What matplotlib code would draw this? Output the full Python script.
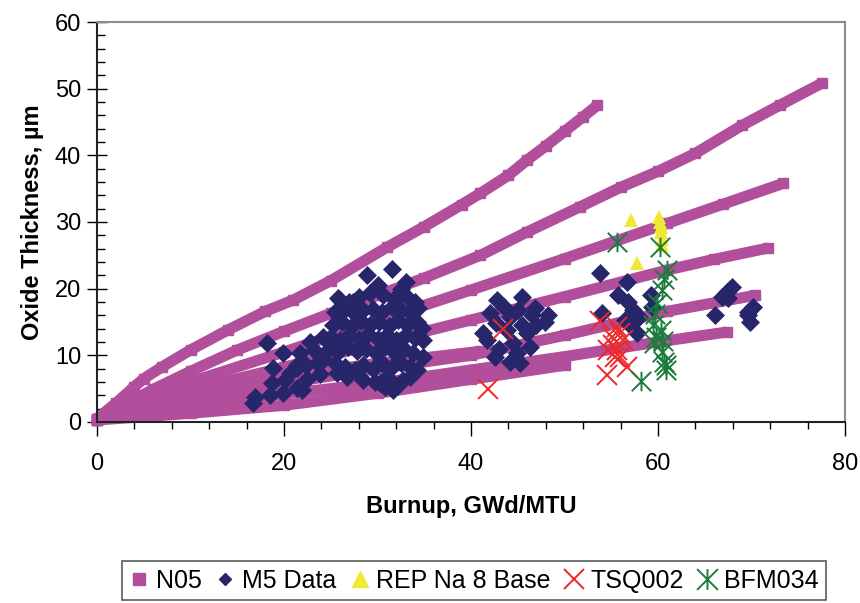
import numpy as np
import matplotlib
matplotlib.use('Agg')
import matplotlib.pyplot as plt
from matplotlib.path import Path
from matplotlib.lines import Line2D

plt.rcParams['font.family'] = ['Liberation Sans', 'DejaVu Sans']

# N05 model curves (burnup, oxide thickness)
n05_curves = [
    ([0, 2, 4, 5, 7, 10, 14, 18, 21, 25, 31, 35, 39, 41, 44, 46, 48, 50, 52, 53.5],
     [0.5, 2.8, 5.3, 6.5, 8.3, 10.8, 13.8, 16.6, 18.3, 21.2, 26.2, 29.3, 32.6, 34.3, 37.0, 39.3, 41.4, 43.6, 45.8, 47.5]),
    ([0, 3, 6, 10, 15, 20, 25, 30, 35, 41, 46, 51.7, 56, 60, 64, 69, 73, 77.5],
     [0.5, 2.6, 4.9, 7.6, 10.8, 13.6, 16.3, 19.0, 21.6, 25.0, 28.5, 32.3, 35.2, 37.6, 40.3, 44.5, 47.5, 50.8]),
    ([0, 5, 10, 20, 30, 40, 50, 61, 67, 73.4],
     [0.4, 3.5, 6.0, 10.5, 15.2, 19.8, 24.5, 29.8, 32.7, 35.8]),
    ([0, 5, 10, 20, 30, 40, 50, 61, 66, 71.8],
     [0.4, 2.8, 4.8, 8.2, 11.8, 15.3, 18.8, 22.8, 24.4, 26.1]),
    ([0, 5, 10, 20, 30, 41],
     [0.3, 2.6, 4.3, 6.8, 8.8, 10.6]),
    ([0, 5, 10, 20, 30, 40, 50, 61, 70.4],
     [0.3, 2.0, 3.5, 5.8, 8.0, 10.0, 13.0, 16.6, 19.0]),
    ([0, 10, 20, 30, 40, 50, 60, 67.4],
     [0.3, 2.5, 4.2, 5.8, 7.8, 9.8, 12.0, 13.5]),
    ([0, 10, 20, 30, 40, 50],
     [0.3, 1.3, 2.5, 4.3, 6.4, 8.5]),
]

# M5 data
m5_x = [16.7, 16.9, 18.2, 18.8, 19.9, 21.7, 21.4, 18.7, 20.1, 19.9, 18.5, 21.4, 21.9, 20.6, 22.8,
        23.5, 24.2, 24.9, 24.2, 21.4, 22.5, 23.2, 23.8, 22.3,
        25.8, 27.0, 28.0, 29.2, 30.6, 31.8, 33.1, 34.0,
        28.9, 31.6, 33.0, 27.4, 26.0, 32.5, 30.0,
        25.5, 26.5, 27.5, 28.5, 29.5, 30.5, 31.5, 32.5, 33.5, 34.3,
        25.2, 26.2, 27.2, 28.2, 29.2, 30.2, 31.2, 32.2, 33.2, 34.2, 34.8,
        25.0, 26.0, 27.0, 28.0, 29.0, 30.0, 31.0, 32.0, 33.0, 34.0, 34.9,
        24.8, 25.8, 26.8, 27.8, 28.8, 29.8, 30.8, 31.8, 32.8, 33.8, 34.9,
        25.5, 26.5, 27.6, 28.5, 29.5, 30.5, 31.5, 32.5, 33.5, 34.2,
        25.7, 26.7, 28.5, 29.7, 30.3, 31.0, 32.7, 33.5,
        31.7, 30.8, 32.2,
        42.8, 45.5, 46.8, 48.2, 47.9, 42.0, 41.3, 41.7, 42.6, 44.2, 45.2, 46.3, 46.0, 44.2,
        43.8, 43.5, 44.5, 47.0, 45.0, 43.0, 45.5, 42.7, 46.5, 44.9,
        53.8, 56.7, 55.7, 56.8, 57.3, 54.0, 57.7, 56.5, 59.3, 59.4, 58.0, 57.0,
        66.1, 66.8, 67.4, 67.9, 67.5, 69.6, 70.2, 69.8, 69.6]
m5_y = [2.8, 3.8, 11.8, 8.1, 10.3, 10.3, 8.6, 5.9, 6.3, 4.3, 4.0, 5.1, 4.8, 7.3, 12.0,
        8.8, 9.3, 11.8, 12.8, 8.1, 6.5, 10.8, 7.2, 8.5,
        18.6, 18.0, 18.8, 19.3, 19.0, 18.5, 18.8, 18.0,
        22.0, 22.9, 21.0, 18.0, 18.3, 20.0, 20.5,
        16.5, 17.0, 16.3, 16.8, 17.0, 16.5, 17.2, 16.8, 16.5, 17.1,
        14.5, 15.0, 14.3, 15.2, 14.6, 15.0, 14.4, 15.3, 14.6, 15.0, 14.1,
        12.8, 12.3, 13.0, 12.5, 13.2, 12.4, 13.0, 12.3, 13.1, 12.6, 12.3,
        11.0, 10.5, 11.2, 10.6, 11.0, 10.4, 11.2, 10.5, 11.0, 10.3, 9.8,
        8.8, 8.2, 7.8, 8.6, 8.0, 8.8, 8.2, 8.9, 8.3, 7.8,
        7.3, 6.8, 6.3, 6.0, 5.8, 6.8, 6.3, 6.8,
        4.8, 5.2, 5.5,
        18.3, 18.8, 17.1, 16.0, 15.0, 16.3, 13.3, 12.3, 9.8, 9.0, 8.8, 11.3, 13.3, 15.8,
        13.8, 17.3, 11.8, 14.5, 16.8, 11.0, 14.5, 14.8, 16.0, 10.3,
        22.3, 21.0, 19.0, 18.0, 16.8, 16.3, 13.3, 15.3, 19.0, 17.3, 15.8, 14.5,
        16.0, 18.8, 19.5, 20.3, 18.6, 16.5, 17.3, 15.0, 16.0]

# REP Na 8 Base
rep_x = [57.1, 57.7, 60.1, 60.2, 60.3, 60.3, 60.4, 60.4]
rep_y = [30.3, 23.8, 30.8, 30.0, 29.3, 28.5, 27.5, 26.5]

# TSQ002
tsq_x = [41.8, 43.4, 53.8, 55.6, 55.1, 55.2, 54.7, 55.6, 55.9, 54.5, 56.7, 56.3, 55.9, 55.4]
tsq_y = [5.0, 14.0, 15.1, 14.3, 12.8, 11.5, 10.8, 10.8, 9.8, 7.0, 8.3, 12.3, 13.3, 9.8]

# BFM034
bfm_x = [55.6, 60.2, 61.0, 60.6, 60.4, 59.9, 59.7, 59.5, 60.3, 59.8, 59.6, 60.4, 60.6, 60.8, 58.2, 60.5, 60.9]
bfm_y = [27.0, 26.3, 22.8, 21.5, 19.8, 17.8, 16.2, 14.5, 13.8, 12.8, 11.8, 10.5, 9.0, 7.8, 6.2, 12.2, 8.5]

c_n05 = '#b24f9d'
c_m5 = '#27266b'
c_rep = '#efe835'
c_tsq = '#ee2828'
c_bfm = '#1b7d3c'

star = Path([(0, -1), (0, 1), (-1, -1), (1, 1), (-1, 1), (1, -1)],
            [Path.MOVETO, Path.LINETO] * 3)

fig = plt.figure(figsize=(8.6, 6.03), dpi=100)
ax = fig.add_axes([0.1128, 0.3002, 0.8698, 0.6633])

for cx, cy in n05_curves:
    ax.plot(cx, cy, color=c_n05, lw=8, marker='s', ms=6.5, solid_capstyle='butt',
            zorder=2, clip_on=False)

ax.plot(m5_x, m5_y, 'D', color=c_m5, ms=9.5, mew=0.5, zorder=3)
ax.plot(rep_x, rep_y, '^', color=c_rep, ms=10, mew=0, zorder=4)
ax.plot(tsq_x, tsq_y, 'x', color=c_tsq, ms=14, mew=1.4, zorder=5)
ax.plot(bfm_x, bfm_y, linestyle='none', marker=star, color=c_bfm, ms=14, mew=1.4, zorder=6)

ax.set_xlim(0, 80)
ax.set_ylim(0, 60)
ax.set_xticks(range(0, 81, 20))
ax.set_xticks(range(0, 81, 4), minor=True)
ax.set_yticks(range(0, 61, 10))
ax.set_yticks(range(0, 61, 2), minor=True)
ax.tick_params(axis='x', which='major', direction='out', length=10, width=1, labelsize=17, pad=12)
ax.tick_params(axis='x', which='minor', direction='out', length=5, width=1)
ax.tick_params(axis='y', which='major', direction='inout', length=15, width=1, labelsize=17, pad=4)
ax.tick_params(axis='y', which='minor', direction='in', length=6, width=1)

for s in ['top', 'right']:
    ax.spines[s].set_color('#8c8c8c')
    ax.spines[s].set_linewidth(1.5)
for s in ['left', 'bottom']:
    ax.spines[s].set_color('#222222')
    ax.spines[s].set_linewidth(1.5)

ax.set_xlabel('Burnup, GWd/MTU', fontsize=17, fontweight='bold', labelpad=15)
ax.set_ylabel('Oxide Thickness, \u00b5m', fontsize=17, fontweight='bold', labelpad=8)

handles = [
    Line2D([], [], linestyle='none', marker='s', color=c_n05, ms=8),
    Line2D([], [], linestyle='none', marker='D', color=c_m5, ms=6.5),
    Line2D([], [], linestyle='none', marker='^', color=c_rep, ms=11),
    Line2D([], [], linestyle='none', marker='x', color=c_tsq, ms=15, mew=1.4),
    Line2D([], [], linestyle='none', marker=star, color=c_bfm, ms=15, mew=1.4),
]
labels = ['N05', 'M5 Data', 'REP Na 8 Base', 'TSQ002', 'BFM034']
leg = fig.legend(handles, labels, loc='center', bbox_to_anchor=(0.551, 0.0365), ncol=5,
                 fontsize=18, frameon=True, fancybox=False, edgecolor='#333333',
                 handlelength=0.8, handletextpad=0.25, columnspacing=0.55, borderpad=0.3)
leg.get_frame().set_linewidth(1.2)

fig.savefig('out.png', dpi=100)
